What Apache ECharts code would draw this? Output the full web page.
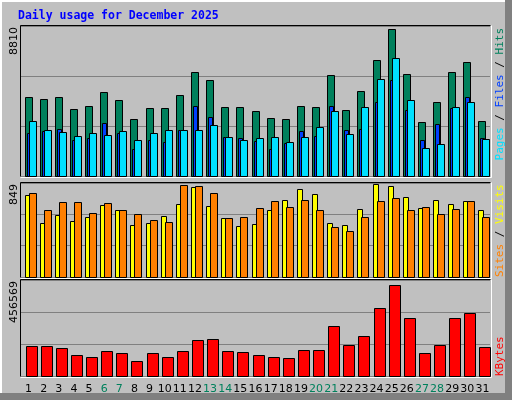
<!DOCTYPE html>
<html><head><meta charset="utf-8">
<script src="https://cdn.jsdelivr.net/npm/echarts@6/dist/echarts.min.js"></script>
<style>html,body{margin:0;padding:0;background:#c0c0c0}#c{width:512px;height:400px}</style>
</head><body><div id="c"></div>
<script>
const days = ['1','2','3','4','5','6','7','8','9','10','11','12','13','14','15','16','17','18','19','20','21','22','23','24','25','26','27','28','29','30','31'];
const weekend = [6,7,13,14,20,21,27,28];
const hits = [4640,4524,4640,3939,4114,4933,4465,3354,3997,3997,4758,6103,5635,4056,4056,3822,3412,3354,4114,4056,5928,3880,4992,6805,8619,5986,3178,4348,6103,6688,3237];
const files = [2535,2652,2769,2086,2242,3120,2535,1599,2125,2008,2710,4114,3471,2301,2242,2067,1599,1950,2652,2359,4114,2710,2769,4348,5635,3880,2125,3061,3997,4640,2242];
const pages = [3237,2710,2593,2359,2535,2418,2652,2125,2535,2710,2710,2710,3003,2301,2125,2242,2301,2008,2301,2886,3822,2476,4056,5694,6922,4465,1657,1891,4056,4348,2184];
const visits = [739,485,558,503,539,648,603,467,485,548,658,812,639,530,458,476,603,694,794,748,485,467,612,839,821,721,621,694,658,685,603];
const sites = [758,603,676,676,576,667,603,567,512,494,830,821,758,530,539,621,685,630,694,603,448,412,539,685,712,603,630,567,612,685,539];
const kbytes = [144000,144000,135000,101000,92000,120000,111000,73000,111000,92000,120000,173000,178000,120000,116000,101000,92000,87000,125000,125000,239000,149000,192000,325000,434000,277000,111000,149000,277000,301000,139000];
const maxLabels = ['8810','849','456569'];
const maxVals = [8810,849,456569];

const G = [{top:26,h:150},{top:183,h:94},{top:280,h:96}];
const L=21, R=490;
function bar(o0,o1,color){
  return function(params, api){
    const p = api.coord([api.value(0), api.value(1)]);
    const b = api.coord([api.value(0), 0]);
    return {type:'rect', shape:{x:Math.round(p[0]+o0)+0.5, y:Math.round(p[1])+0.5, width:o1-o0, height:Math.round(b[1])-Math.round(p[1])},
      style:{fill:color, stroke:'#000', lineWidth:1}};
  };
}
function ser(arr, g, o0, o1, color){
  return {type:'custom', xAxisIndex:g, yAxisIndex:g, renderItem:bar(o0,o1,color), data:arr.map((v,i)=>[i,v]), animation:false};
}
const grids=[], xAxes=[], yAxes=[];
G.forEach((g,i)=>{
  grids.push({left:L, top:g.top, width:R-L, height:g.h});
  xAxes.push({type:'category', gridIndex:i, data:days, boundaryGap:true, axisLine:{show:false}, axisTick:{show:false},
    axisLabel:{show:i===2, margin:8, fontFamily:'DejaVu Sans', fontSize:11, interval:0,
      color:(v)=>weekend.includes(+v)?'#00805c':'#000'}});
  yAxes.push({type:'value', gridIndex:i, min:0, max:maxVals[i], interval:maxVals[i]/3, axisLabel:{show:false}, axisLine:{show:false}, axisTick:{show:false},
    splitLine:{show:true, lineStyle:{color:'#808080', width:1}}});
});
const gr = [
  {type:'rect', shape:{x:0,y:0,width:512,height:400}, style:{fill:'#c0c0c0'}, z:-10},
  {type:'rect', shape:{x:0,y:0,width:2,height:400}, style:{fill:'#fff'}, z:-9},
  {type:'rect', shape:{x:0,y:0,width:512,height:2}, style:{fill:'#fff'}, z:-9},
  {type:'rect', shape:{x:505,y:0,width:7,height:400}, style:{fill:'#808080'}, z:-9},
  {type:'rect', shape:{x:0,y:393,width:512,height:7}, style:{fill:'#808080'}, z:-9},
  {type:'text', x:18, y:16, style:{text:'Daily usage for December 2025', fill:'#0000ff', font:'bold 11.5px "DejaVu Sans Mono"', verticalAlign:'middle'}},
];
G.forEach((g,i)=>{
  const t=g.top-0.5, b=g.top+g.h+0.5, l=L-0.5, r=R+0.5;
  gr.push({type:'polyline', shape:{points:[[l,b],[l,t],[r,t]]}, style:{stroke:'#000',lineWidth:1,fill:null}, z:50});
  gr.push({type:'polyline', shape:{points:[[l,b+1],[r+1,b+1],[r+1,t]]}, style:{stroke:'#fff',lineWidth:1,fill:null}, z:50});
  gr.push({type:'text', x:14, y:g.top+1, rotation:Math.PI/2, style:{text:maxLabels[i], fill:'#000', font:'11px "DejaVu Sans"', align:'right', verticalAlign:'middle'}});
});
const rf='11px "DejaVu Sans Mono"';
gr.push({type:'text', x:500, y:28, rotation:Math.PI/2, style:{text:'{p|Pages}{k| / }{f|Files}{k| / }{h|Hits}', align:'right', verticalAlign:'middle', font:rf,
  rich:{p:{fill:'#00e0ff',font:rf},k:{fill:'#000',font:rf},f:{fill:'#0040ff',font:rf},h:{fill:'#00805c',font:rf}}}});
gr.push({type:'text', x:500, y:277, rotation:Math.PI/2, style:{text:'{s|Sites}{k| / }{v|Visits}', align:'left', verticalAlign:'middle', font:rf,
  rich:{s:{fill:'#ff8000',font:rf},k:{fill:'#000',font:rf},v:{fill:'#ffff00',font:rf}}}});
gr.push({type:'text', x:500, y:376, rotation:Math.PI/2, style:{text:'KBytes', fill:'#ff0000', align:'left', verticalAlign:'middle', font:rf}});

const chart = echarts.init(document.getElementById('c'));
chart.setOption({
  animation:false, backgroundColor:'#c0c0c0',
  grid:grids, xAxis:xAxes, yAxis:yAxes, graphic:gr,
  series:[
    ser(hits,0,-4,3,'#00805c'),
    ser(files,0,-2,2,'#0040ff'),
    ser(pages,0,0,7,'#00e0ff'),
    ser(visits,1,-4,1,'#ffff00'),
    ser(sites,1,0,7,'#ff8000'),
    ser(kbytes,2,-3,8,'#ff0000')
  ]
});
</script></body></html>
